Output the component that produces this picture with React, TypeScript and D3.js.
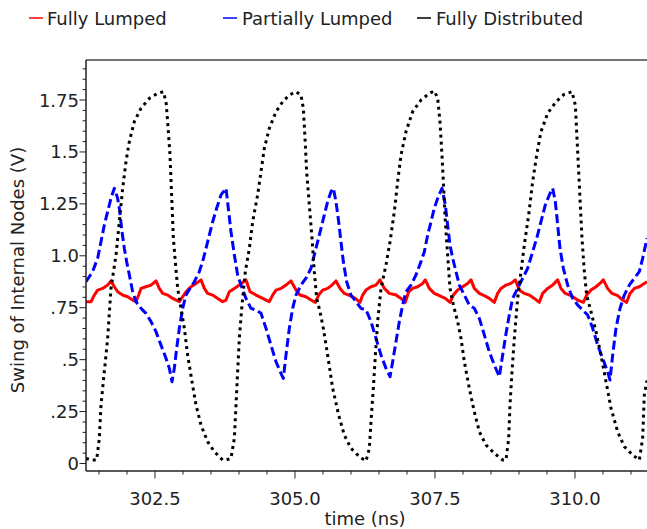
import React from "react";
import * as d3 from "d3";

type Pt = [number, number];

const seriesNames = ["Fully Lumped", "Partially Lumped", "Fully Distributed"];

const xMajorTicks = [302.5, 305.0, 307.5, 310.0];
const yMajorTicks = [0, 0.25, 0.5, 0.75, 1.0, 1.25, 1.5, 1.75];
const yTickLabels = ["0", ".25", ".5", ".75", "1.0", "1.25", "1.5", "1.75"];

const fullyLumped: Pt[] = [
  [301.268, 0.779], [301.357, 0.779], [301.417, 0.811], [301.476, 0.835], [301.565, 0.843], [301.655, 0.859], [301.714, 0.879],
  [301.774, 0.851], [301.833, 0.827], [301.923, 0.811], [302.012, 0.803], [302.101, 0.787], [302.161, 0.779], [302.208, 0.811],
  [302.25, 0.843], [302.339, 0.851], [302.429, 0.859], [302.518, 0.879], [302.577, 0.843], [302.637, 0.819], [302.726, 0.811],
  [302.815, 0.795], [302.935, 0.779], [302.994, 0.803], [303.054, 0.827], [303.143, 0.851], [303.232, 0.867], [303.322, 0.884],
  [303.381, 0.843], [303.44, 0.819], [303.53, 0.811], [303.619, 0.795], [303.708, 0.779], [303.768, 0.787], [303.827, 0.827],
  [303.917, 0.843], [304.006, 0.859], [304.125, 0.884], [304.197, 0.827], [304.304, 0.811], [304.423, 0.795], [304.542, 0.779],
  [304.601, 0.811], [304.661, 0.835], [304.75, 0.843], [304.839, 0.859], [304.929, 0.879], [305.018, 0.835], [305.089, 0.811],
  [305.196, 0.803], [305.286, 0.787], [305.363, 0.776], [305.423, 0.811], [305.494, 0.835], [305.583, 0.843], [305.661, 0.859],
  [305.732, 0.879], [305.804, 0.843], [305.881, 0.819], [305.982, 0.808], [306.077, 0.795], [306.161, 0.776], [306.208, 0.811],
  [306.268, 0.835], [306.357, 0.851], [306.446, 0.859], [306.518, 0.884], [306.595, 0.843], [306.685, 0.819], [306.804, 0.811],
  [306.893, 0.795], [306.97, 0.776], [307.03, 0.827], [307.101, 0.843], [307.19, 0.851], [307.28, 0.867], [307.327, 0.884],
  [307.399, 0.843], [307.488, 0.819], [307.577, 0.808], [307.685, 0.795], [307.768, 0.776], [307.828, 0.811], [307.905, 0.835],
  [307.994, 0.851], [308.083, 0.867], [308.143, 0.884], [308.202, 0.843], [308.292, 0.819], [308.381, 0.808], [308.47, 0.795],
  [308.56, 0.776], [308.619, 0.819], [308.679, 0.843], [308.768, 0.859], [308.857, 0.867], [308.935, 0.884], [309.006, 0.835],
  [309.095, 0.819], [309.185, 0.811], [309.274, 0.795], [309.363, 0.776], [309.423, 0.819], [309.512, 0.843], [309.601, 0.859],
  [309.691, 0.884], [309.75, 0.843], [309.827, 0.819], [309.929, 0.808], [310.048, 0.787], [310.149, 0.776], [310.208, 0.811],
  [310.286, 0.835], [310.375, 0.851], [310.446, 0.867], [310.506, 0.884], [310.583, 0.843], [310.661, 0.819], [310.762, 0.808],
  [310.851, 0.787], [310.923, 0.776], [310.982, 0.819], [311.06, 0.843], [311.149, 0.851], [311.286, 0.875],
];

const partiallyLumped: Pt[] = [
  [301.268, 0.875], [301.387, 0.924], [301.476, 0.988], [301.536, 1.068], [301.595, 1.148], [301.655, 1.213], [301.714, 1.277],
  [301.774, 1.325], [301.833, 1.277], [301.863, 1.229], [301.911, 1.116], [301.952, 1.036], [301.994, 0.972], [302.042, 0.908],
  [302.101, 0.827], [302.161, 0.779], [302.25, 0.747], [302.339, 0.723], [302.429, 0.683], [302.518, 0.635], [302.607, 0.57],
  [302.697, 0.506], [302.756, 0.458], [302.804, 0.394], [302.845, 0.458], [302.887, 0.554], [302.935, 0.651], [302.994, 0.747],
  [303.054, 0.811], [303.125, 0.843], [303.202, 0.875], [303.292, 0.924], [303.351, 0.972], [303.411, 1.036], [303.47, 1.1],
  [303.53, 1.164], [303.601, 1.229], [303.679, 1.293], [303.768, 1.325], [303.816, 1.213], [303.857, 1.116], [303.917, 1.004],
  [303.976, 0.908], [304.036, 0.859], [304.125, 0.795], [304.214, 0.747], [304.304, 0.739], [304.393, 0.723], [304.482, 0.651],
  [304.571, 0.57], [304.661, 0.49], [304.75, 0.434], [304.792, 0.41], [304.839, 0.522], [304.899, 0.651], [304.958, 0.747],
  [305.018, 0.811], [305.107, 0.859], [305.196, 0.892], [305.286, 0.94], [305.345, 1.004], [305.405, 1.068], [305.464, 1.132],
  [305.524, 1.197], [305.583, 1.261], [305.643, 1.309], [305.685, 1.325], [305.732, 1.261], [305.78, 1.164], [305.821, 1.068],
  [305.863, 0.972], [305.923, 0.875], [306.0, 0.811], [306.089, 0.779], [306.179, 0.747], [306.268, 0.74], [306.357, 0.683],
  [306.446, 0.603], [306.536, 0.522], [306.625, 0.458], [306.697, 0.418], [306.744, 0.49], [306.804, 0.587], [306.863, 0.683],
  [306.923, 0.763], [306.982, 0.827], [307.071, 0.859], [307.161, 0.908], [307.25, 0.972], [307.31, 1.02], [307.369, 1.1],
  [307.429, 1.164], [307.488, 1.229], [307.548, 1.277], [307.625, 1.325], [307.685, 1.245], [307.726, 1.148], [307.768, 1.052],
  [307.816, 0.988], [307.875, 0.924], [307.935, 0.859], [308.024, 0.811], [308.113, 0.763], [308.202, 0.747], [308.292, 0.699],
  [308.381, 0.619], [308.47, 0.538], [308.56, 0.474], [308.649, 0.418], [308.708, 0.522], [308.768, 0.625], [308.827, 0.715],
  [308.887, 0.795], [308.976, 0.843], [309.066, 0.892], [309.155, 0.94], [309.244, 1.02], [309.316, 1.084], [309.393, 1.164],
  [309.47, 1.245], [309.542, 1.293], [309.601, 1.325], [309.649, 1.261], [309.691, 1.148], [309.732, 1.036], [309.792, 0.94],
  [309.869, 0.859], [309.958, 0.795], [310.048, 0.763], [310.137, 0.739], [310.226, 0.715], [310.316, 0.651], [310.405, 0.57],
  [310.494, 0.506], [310.583, 0.442], [310.625, 0.402], [310.673, 0.522], [310.732, 0.651], [310.804, 0.747], [310.881, 0.811],
  [310.97, 0.859], [311.06, 0.892], [311.149, 0.924], [311.208, 0.988], [311.286, 1.084],
];

const fullyDistributed: Pt[] = [
  [301.268, 0.025], [301.357, 0.017], [301.458, 0.017], [301.506, 0.121], [301.536, 0.282], [301.595, 0.442], [301.655, 0.603],
  [301.714, 0.843], [301.804, 1.004], [301.863, 1.164], [301.923, 1.325], [301.982, 1.453], [302.042, 1.55], [302.131, 1.646],
  [302.25, 1.71], [302.399, 1.758], [302.548, 1.782], [302.649, 1.79], [302.697, 1.742], [302.726, 1.646], [302.768, 1.485],
  [302.804, 1.245], [302.828, 1.084], [302.863, 0.972], [302.905, 0.843], [302.964, 0.747], [303.024, 0.651], [303.083, 0.522],
  [303.161, 0.394], [303.232, 0.282], [303.322, 0.185], [303.44, 0.105], [303.56, 0.057], [303.708, 0.017], [303.768, 0.017],
  [303.857, 0.025], [303.917, 0.121], [303.947, 0.282], [303.976, 0.442], [304.006, 0.603], [304.054, 0.763], [304.113, 0.924],
  [304.185, 1.036], [304.244, 1.164], [304.333, 1.293], [304.393, 1.405], [304.453, 1.518], [304.542, 1.614], [304.661, 1.694],
  [304.78, 1.742], [304.899, 1.774], [305.018, 1.79], [305.107, 1.774], [305.149, 1.71], [305.179, 1.566], [305.208, 1.405],
  [305.256, 1.245], [305.304, 1.084], [305.345, 0.924], [305.387, 0.795], [305.447, 0.731], [305.506, 0.651], [305.583, 0.522],
  [305.673, 0.362], [305.78, 0.233], [305.881, 0.137], [306.0, 0.073], [306.149, 0.033], [306.268, 0.012], [306.328, 0.073],
  [306.357, 0.201], [306.399, 0.362], [306.435, 0.522], [306.476, 0.683], [306.536, 0.843], [306.625, 0.956], [306.697, 1.068],
  [306.774, 1.213], [306.833, 1.357], [306.893, 1.485], [306.982, 1.598], [307.101, 1.694], [307.25, 1.75], [307.399, 1.782],
  [307.488, 1.794], [307.548, 1.758], [307.589, 1.646], [307.625, 1.485], [307.655, 1.325], [307.685, 1.164], [307.726, 1.004],
  [307.768, 0.843], [307.828, 0.763], [307.905, 0.683], [307.964, 0.603], [308.024, 0.49], [308.113, 0.362], [308.202, 0.249],
  [308.292, 0.153], [308.411, 0.089], [308.56, 0.049], [308.708, 0.017], [308.768, 0.017], [308.816, 0.121], [308.839, 0.282],
  [308.875, 0.442], [308.917, 0.603], [308.976, 0.795], [309.036, 0.924], [309.095, 1.052], [309.173, 1.197], [309.244, 1.357],
  [309.316, 1.485], [309.393, 1.598], [309.512, 1.686], [309.661, 1.742], [309.81, 1.778], [309.947, 1.79], [310.006, 1.726],
  [310.036, 1.566], [310.066, 1.405], [310.095, 1.245], [310.125, 1.084], [310.167, 0.924], [310.208, 0.811], [310.286, 0.731],
  [310.375, 0.635], [310.464, 0.522], [310.554, 0.394], [310.643, 0.266], [310.762, 0.153], [310.881, 0.081], [311.03, 0.041],
  [311.149, 0.017], [311.208, 0.121], [311.238, 0.33], [311.286, 0.4],
];

const W = 647;
const H = 529;
const plot = { left: 86, right: 646, top: 60, bottom: 471 };
const FONT = "DejaVu Sans";
const FS = 18;

export default function App() {
  const x = d3.scaleLinear().domain([301.268, 311.268]).range([plot.left, plot.right]);
  const y = d3.scaleLinear().domain([-0.0361, 1.9427]).range([plot.bottom, plot.top]);
  const line = d3
    .line<Pt>()
    .x((d) => x(d[0]))
    .y((d) => y(d[1]));

  const xMinor = d3.range(301.5, 311.26, 0.5).filter((t) => !xMajorTicks.some((m) => Math.abs(m - t) < 1e-6));
  const yMinor = d3.range(0, 1.93, 0.05).filter((v) => !yMajorTicks.some((m) => Math.abs(m - v) < 1e-6));

  const series = [
    { name: seriesNames[0], data: fullyLumped, color: "#ff0000", dash: undefined as string | undefined, lx: 29, tx: 47 },
    { name: seriesNames[1], data: partiallyLumped, color: "#0000ff", dash: "9,4", lx: 223, tx: 242 },
    { name: seriesNames[2], data: fullyDistributed, color: "#000000", dash: "3,4", lx: 417, tx: 436 },
  ];

  return (
    <svg
      width={W}
      height={H}
      style={{ position: "absolute", left: 0, top: 0, background: "#fff" }}
      fontFamily={FONT}
    >
      <defs>
        <clipPath id="plotclip">
          <rect x={plot.left} y={plot.top} width={W - plot.left} height={plot.bottom - plot.top} />
        </clipPath>
      </defs>
      <rect x={0} y={0} width={W} height={H} fill="#fff" />

      {/* legend */}
      {series.map((s) => (
        <g key={s.name}>
          <line x1={s.lx} x2={s.lx + 14} y1={18} y2={18} stroke={s.color} strokeWidth={1.5} />
          <text x={s.tx} y={24.5} fontSize={FS} fill="#222">
            {s.name}
          </text>
        </g>
      ))}

      {/* lines */}
      <g clipPath="url(#plotclip)">
        {series.map((s) => (
          <path
            key={s.name}
            d={line(s.data) || ""}
            fill="none"
            stroke={s.color}
            strokeWidth={3}
            strokeDasharray={s.dash}
            strokeLinejoin="round"
          />
        ))}
      </g>

      {/* frame */}
      <line x1={plot.left} x2={W} y1={plot.top} y2={plot.top} stroke="#444" strokeWidth={1.5} />
      <line x1={plot.left} x2={plot.left} y1={plot.top} y2={plot.bottom} stroke="#222" strokeWidth={1.5} />
      <line x1={plot.left} x2={W} y1={plot.bottom} y2={plot.bottom} stroke="#222" strokeWidth={1.5} />

      {/* y ticks */}
      {yMinor.map((v) => (
        <line key={"ym" + v} x1={plot.left - 3.5} x2={plot.left} y1={y(v)} y2={y(v)} stroke="#222" strokeWidth={1} />
      ))}
      {yMajorTicks.map((v, i) => (
        <g key={"yM" + v}>
          <line x1={plot.left - 6.5} x2={plot.left} y1={y(v)} y2={y(v)} stroke="#222" strokeWidth={1} />
          <text x={plot.left - 7} y={y(v)} dy="0.36em" textAnchor="end" fontSize={FS} fill="#222">
            {yTickLabels[i]}
          </text>
        </g>
      ))}

      {/* x ticks */}
      {xMinor.map((t) => (
        <line key={"xm" + t} x1={x(t)} x2={x(t)} y1={plot.bottom} y2={plot.bottom + 3.5} stroke="#222" strokeWidth={1} />
      ))}
      {xMajorTicks.map((t) => (
        <g key={"xM" + t}>
          <line x1={x(t)} x2={x(t)} y1={plot.bottom} y2={plot.bottom + 7.5} stroke="#222" strokeWidth={1} />
          <text x={x(t)} y={505} textAnchor="middle" fontSize={FS} fill="#222">
            {t.toFixed(1)}
          </text>
        </g>
      ))}

      {/* axis titles */}
      <text x={365} y={525} textAnchor="middle" fontSize={FS} fill="#222">
        time (ns)
      </text>
      <text
        transform={`translate(24, 270) rotate(-90)`}
        textAnchor="middle"
        fontSize={FS}
        fill="#222"
      >
        Swing of Internal Nodes (V)
      </text>
    </svg>
  );
}
